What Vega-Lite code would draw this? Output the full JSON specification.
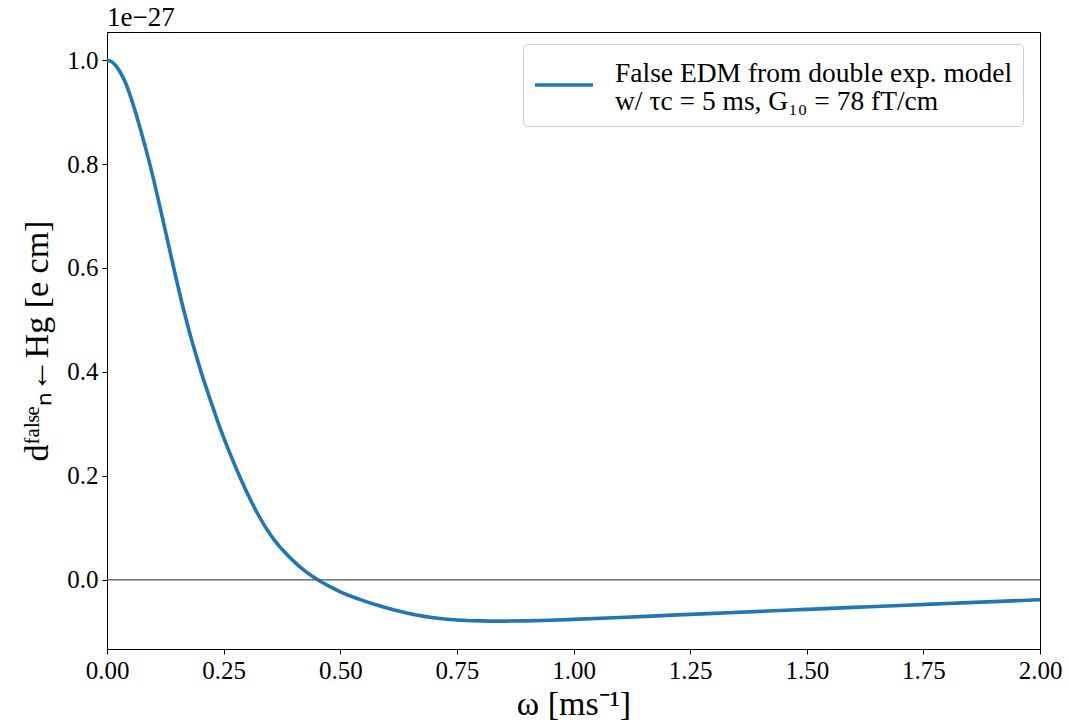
{
  "$schema": "https://vega.github.io/schema/vega-lite/v6.json",
  "width": 933,
  "height": 617,
  "autosize": {"type": "none"},
  "padding": {"left": 107, "top": 32, "right": 29, "bottom": 73},
  "background": "white",
  "title": {
    "text": "1e−27",
    "anchor": "start",
    "frame": "group",
    "font": "Liberation Serif",
    "fontSize": 27,
    "fontWeight": "normal",
    "color": "black",
    "offset": 0
  },
  "config": {
    "view": {"stroke": "black", "strokeWidth": 1},
    "axis": {
      "grid": false,
      "domainColor": "black",
      "domainWidth": 1,
      "tickColor": "black",
      "tickSize": 5,
      "tickWidth": 1,
      "labelFont": "Liberation Serif",
      "labelFontSize": 25,
      "labelColor": "black",
      "labelPadding": 4,
      "labelFlush": false,
      "titleFont": "Liberation Serif",
      "titleFontSize": 34,
      "titleFontWeight": "normal",
      "titleColor": "black"
    },
    "legend": {
      "labelFont": "Liberation Serif",
      "labelFontSize": 27.5,
      "labelColor": "black"
    }
  },
  "layer": [
    {
      "data": {
        "values": [
          {"omega": 0.00, "d": 1.000},
          {"omega": 0.01, "d": 0.997},
          {"omega": 0.02, "d": 0.988},
          {"omega": 0.03, "d": 0.974},
          {"omega": 0.04, "d": 0.956},
          {"omega": 0.05, "d": 0.931},
          {"omega": 0.06, "d": 0.903},
          {"omega": 0.07, "d": 0.872},
          {"omega": 0.08, "d": 0.840},
          {"omega": 0.09, "d": 0.806},
          {"omega": 0.10, "d": 0.770},
          {"omega": 0.11, "d": 0.731},
          {"omega": 0.12, "d": 0.692},
          {"omega": 0.13, "d": 0.652},
          {"omega": 0.14, "d": 0.612},
          {"omega": 0.15, "d": 0.573},
          {"omega": 0.16, "d": 0.535},
          {"omega": 0.17, "d": 0.500},
          {"omega": 0.18, "d": 0.466},
          {"omega": 0.19, "d": 0.435},
          {"omega": 0.20, "d": 0.405},
          {"omega": 0.21, "d": 0.377},
          {"omega": 0.22, "d": 0.350},
          {"omega": 0.23, "d": 0.324},
          {"omega": 0.24, "d": 0.298},
          {"omega": 0.26, "d": 0.251},
          {"omega": 0.28, "d": 0.208},
          {"omega": 0.30, "d": 0.168},
          {"omega": 0.32, "d": 0.132},
          {"omega": 0.34, "d": 0.101},
          {"omega": 0.36, "d": 0.075},
          {"omega": 0.38, "d": 0.054},
          {"omega": 0.40, "d": 0.036},
          {"omega": 0.42, "d": 0.020},
          {"omega": 0.44, "d": 0.007},
          {"omega": 0.46, "d": -0.004},
          {"omega": 0.48, "d": -0.014},
          {"omega": 0.50, "d": -0.023},
          {"omega": 0.54, "d": -0.037},
          {"omega": 0.58, "d": -0.049},
          {"omega": 0.62, "d": -0.059},
          {"omega": 0.66, "d": -0.067},
          {"omega": 0.70, "d": -0.0728},
          {"omega": 0.75, "d": -0.0771},
          {"omega": 0.80, "d": -0.0788},
          {"omega": 0.85, "d": -0.0793},
          {"omega": 0.90, "d": -0.0789},
          {"omega": 0.95, "d": -0.0777},
          {"omega": 1.00, "d": -0.0760},
          {"omega": 1.10, "d": -0.0723},
          {"omega": 1.20, "d": -0.0684},
          {"omega": 1.30, "d": -0.0645},
          {"omega": 1.40, "d": -0.0606},
          {"omega": 1.50, "d": -0.0568},
          {"omega": 1.60, "d": -0.0530},
          {"omega": 1.70, "d": -0.0492},
          {"omega": 1.80, "d": -0.0455},
          {"omega": 1.90, "d": -0.0418},
          {"omega": 2.00, "d": -0.0382}
        ]
      },
      "mark": {"type": "line", "strokeWidth": 3.6, "interpolate": "monotone", "clip": true},
      "encoding": {
        "x": {
          "field": "omega",
          "type": "quantitative",
          "scale": {"domain": [0, 2], "nice": false, "zero": false},
          "axis": {
            "title": "ω [ms⁻¹]",
            "values": [0, 0.25, 0.5, 0.75, 1.0, 1.25, 1.5, 1.75, 2.0],
            "format": ".2f",
            "titlePadding": 4
          }
        },
        "y": {
          "field": "d",
          "type": "quantitative",
          "scale": {"domain": [-0.133, 1.054], "nice": false, "zero": false},
          "axis": {
            "title": "dᶠᵃˡˢᵉₙ←Hg [e cm]",
            "values": [0, 0.2, 0.4, 0.6, 0.8, 1.0],
            "format": ".1f",
            "titlePadding": 12
          }
        },
        "color": {
          "datum": "False EDM from double exp. model\nw/ τc = 5 ms, G₁₀ = 78 fT/cm",
          "type": "nominal",
          "scale": {"range": ["#1f77b4"]},
          "legend": {
            "title": null,
            "orient": "none",
            "legendX": 416,
            "legendY": 12,
            "symbolType": "stroke",
            "symbolSize": 3364,
            "symbolStrokeWidth": 3.6,
            "labelOffset": 20,
            "labelLimit": 800,
            "labelExpr": "split(datum.label, '\\n')",
            "padding": 10,
            "fillColor": "white",
            "strokeColor": "#cccccc",
            "cornerRadius": 4,
            "encode": {
              "labels": {"update": {"lineHeight": {"value": 28}, "dy": {"value": -11}}}
            }
          }
        }
      }
    },
    {
      "data": {"values": [{"zero": 0}]},
      "mark": {"type": "rule", "color": "#555555", "strokeWidth": 1.3},
      "encoding": {
        "y": {"field": "zero", "type": "quantitative"}
      }
    }
  ]
}
